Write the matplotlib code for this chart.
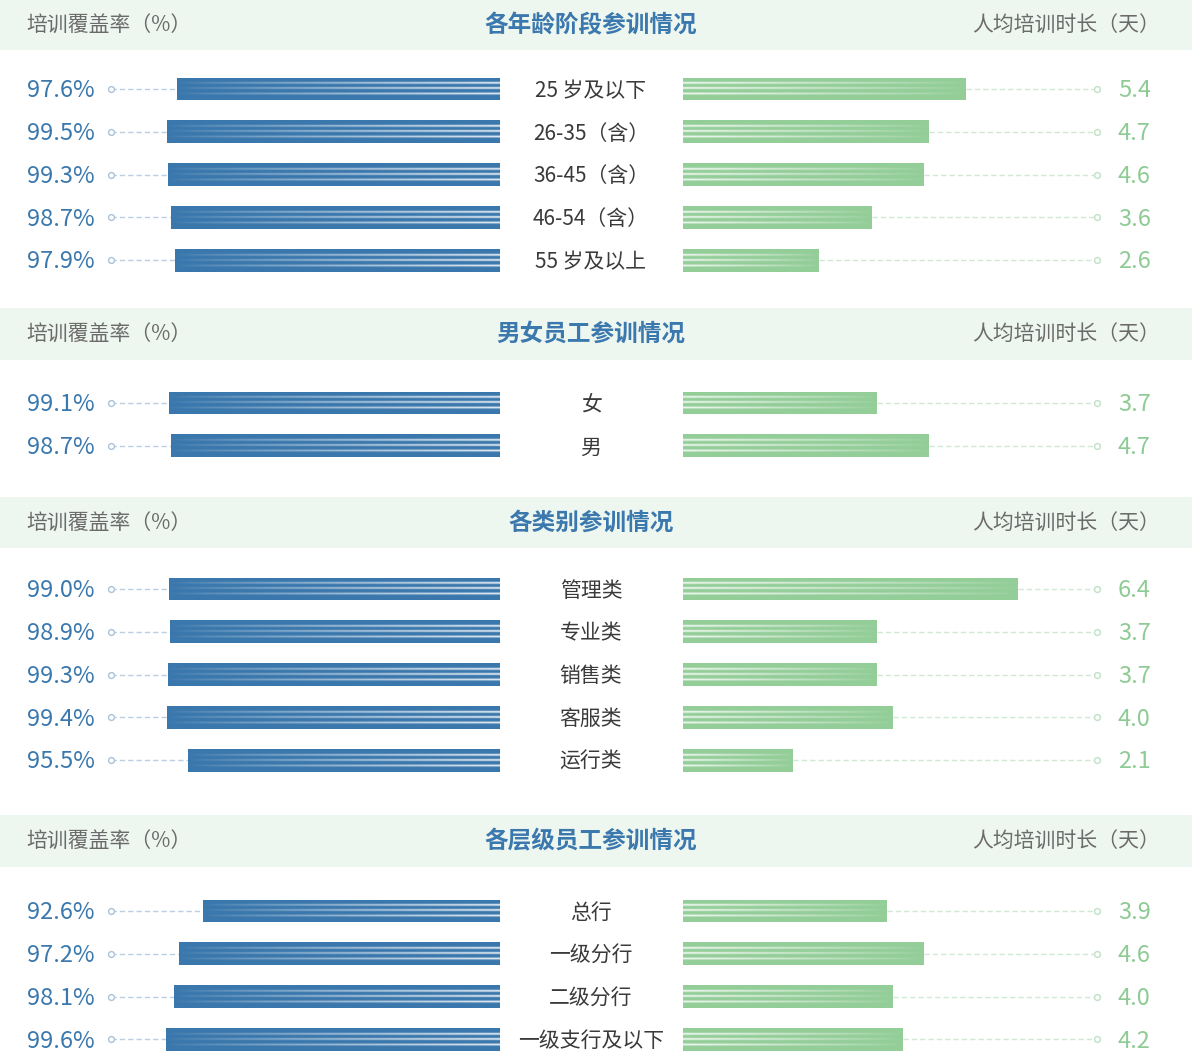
import numpy as np
import matplotlib
matplotlib.use("Agg")
import matplotlib.pyplot as plt
from matplotlib.patches import Rectangle
from matplotlib.transforms import blended_transform_factory, offset_copy

plt.rcParams["font.family"] = ["Noto Sans CJK SC", "DejaVu Sans"]

# ---------------------------------------------------------------- data
section_titles = ["各年龄阶段参训情况", "男女员工参训情况", "各类别参训情况", "各层级员工参训情况"]
left_header = "培训覆盖率（%）"
right_header = "人均培训时长（天）"

age_groups = ["25 岁及以下", "26-35（含）", "36-45（含）", "46-54（含）", "55 岁及以上"]
age_coverage = [97.6, 99.5, 99.3, 98.7, 97.9]
age_days = [5.4, 4.7, 4.6, 3.6, 2.6]

gender_groups = ["女", "男"]
gender_coverage = [99.1, 98.7]
gender_days = [3.7, 4.7]

type_groups = ["管理类", "专业类", "销售类", "客服类", "运行类"]
type_coverage = [99.0, 98.9, 99.3, 99.4, 95.5]
type_days = [6.4, 3.7, 3.7, 4.0, 2.1]

level_groups = ["总行", "一级分行", "二级分行", "一级支行及以下"]
level_coverage = [92.6, 97.2, 98.1, 99.6]
level_days = [3.9, 4.6, 4.0, 4.2]

sections = [
    (age_groups, age_coverage, age_days),
    (gender_groups, gender_coverage, gender_days),
    (type_groups, type_coverage, type_days),
    (level_groups, level_coverage, level_days),
]

# ---------------------------------------------------------------- style / layout
W, H = 1192, 1052
BLUE = "#3a77ac"
GREEN = "#93cd98"
BLUE_TXT = "#3a78ad"
GREEN_TXT = "#8ecb94"
BLUE_DASH = "#b9cee2"
GREEN_DASH = "#cfe9d4"
BAND = "#eef6f0"

COV_BASE = 36.6          # coverage value at the centre edge of the left panel
COV_MAX = 110.0          # coverage value at the outer end of the left panel
DAY_MAX = 7.9            # day value at the outer end of the right panel

# (band top, band bottom, first row centre) in pixels from the top
section_layout = [(0, 50, 89), (308, 360, 403), (497, 548, 589), (815, 867, 911)]
PITCH = 42.8
BAR_H = 0.53

fig = plt.figure(figsize=(W / 100, H / 100), dpi=100)
fig.patch.set_facecolor("white")


def fx(px):
    return px / W


def fy(py):
    return 1 - py / H


def add_axes_px(x0, x1, y0, y1):
    ax = fig.add_axes([fx(x0), fy(y1), fx(x1 - x0), (y1 - y0) / H])
    ax.set_axis_off()
    return ax


def add_stripes(ax, bar):
    """Overlay three white streaks that fade out toward the outer end of the bar."""
    x0, y0 = bar.get_x(), bar.get_y()
    w, h = bar.get_width(), bar.get_height()
    ny, nx = 80, 300
    yy = np.linspace(0, 1, ny)
    prof = np.zeros(ny)
    for c in (0.25, 0.475, 0.72):
        prof += np.exp(-0.5 * ((yy - c) / 0.03) ** 2)
    prof = np.clip(prof, 0, 1) * 0.97
    t = np.linspace(0, 1, nx)
    fade = np.clip(1 - t, 0, 1) ** 0.75 * 0.9 + 0.1 * (1 - t)
    rgba = np.ones((ny, nx, 4))
    rgba[..., 3] = prof[:, None] * fade[None, :]
    im = ax.imshow(rgba, extent=(x0, x0 + w, y0 + h, y0), origin="upper",
                   aspect="auto", interpolation="bilinear", zorder=3)
    im.set_clip_path(bar)


for (groups, coverage, days), (band_top, band_bot, first_row), title in zip(
        sections, section_layout, section_titles):
    n = len(groups)
    band_mid = (band_top + band_bot) / 2 + 1

    # header band
    fig.patches.append(Rectangle((0, fy(band_bot)), 1, (band_bot - band_top) / H,
                                 transform=fig.transFigure, facecolor=BAND,
                                 edgecolor="none", zorder=0))
    fig.text(fx(26), fy(band_mid), left_header, ha="left", va="center",
             fontsize=15, color="#6b6b6b")
    fig.text(fx(591), fy(band_mid - 1), title, ha="center", va="center",
             fontsize=17, fontweight="bold", color=BLUE_TXT)
    fig.text(fx(1160), fy(band_mid), right_header, ha="right", va="center",
             fontsize=15, color="#6b6b6b")

    top = first_row - PITCH / 2
    bot = first_row + (n - 0.5) * PITCH
    idx = np.arange(n)

    # ---- left panel: coverage, growing leftward from the centre
    axl = add_axes_px(111, 500, top, bot)
    bars = axl.barh(idx, np.array(coverage) - COV_BASE, left=COV_BASE,
                    height=BAR_H, color=BLUE, zorder=2)
    for b in bars:
        add_stripes(axl, b)
    for i, v in enumerate(coverage):
        axl.plot([COV_MAX, v], [i, i], color=BLUE_DASH, lw=1.0,
                 dashes=(3.8, 2.2), zorder=1, solid_capstyle="butt")
    axl.plot(np.full(n, COV_MAX), idx, ls="none", marker="o", ms=4.2,
             mfc="white", mec="#a9c2db", mew=1.0, zorder=4, clip_on=False)
    axl.set_xlim(COV_MAX, COV_BASE)
    axl.set_ylim(n - 0.5, -0.5)

    tl = offset_copy(blended_transform_factory(fig.transFigure, axl.transData),
                     fig=fig, y=-1.8, units="dots")
    for i, v in enumerate(coverage):
        axl.text(fx(27), i, f"{v:.1f}%", transform=tl, ha="left", va="center",
                 fontsize=17, color=BLUE_TXT, clip_on=False)
        axl.text(fx(591), i, groups[i], transform=tl, ha="center", va="center",
                 fontsize=15, color="#3a3a3a", clip_on=False)

    # ---- right panel: training days, growing rightward from the centre
    axr = add_axes_px(683, 1097, top, bot)
    bars = axr.barh(idx, days, left=0, height=BAR_H, color=GREEN, zorder=2)
    for b in bars:
        add_stripes(axr, b)
    for i, v in enumerate(days):
        axr.plot([v, DAY_MAX], [i, i], color=GREEN_DASH, lw=1.0,
                 dashes=(3.8, 2.2), zorder=1)
    axr.plot(np.full(n, DAY_MAX), idx, ls="none", marker="o", ms=4.2,
             mfc="white", mec="#bfe2c5", mew=1.0, zorder=4, clip_on=False)
    axr.set_xlim(0, DAY_MAX)
    axr.set_ylim(n - 0.5, -0.5)

    tr = offset_copy(blended_transform_factory(fig.transFigure, axr.transData),
                     fig=fig, y=-1.8, units="dots")
    for i, v in enumerate(days):
        axr.text(fx(1118), i, f"{v:.1f}", transform=tr, ha="left", va="center",
                 fontsize=17, color=GREEN_TXT, clip_on=False)

fig.savefig("out.png", dpi=100, facecolor="white")
